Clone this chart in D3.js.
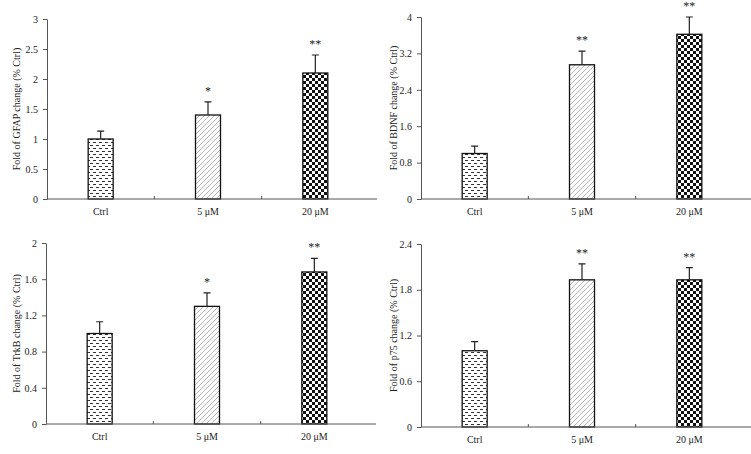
<!DOCTYPE html>
<html>
<head>
<meta charset="utf-8">
<script src="https://cdn.jsdelivr.net/npm/d3@7/dist/d3.min.js"></script>
<style>
  html, body { margin: 0; padding: 0; background: #fff; }
  svg { display: block; }
  text { font-family: "Liberation Serif", "Times New Roman", serif; fill: #222; }
</style>
</head>
<body>
<svg id="chart" width="751" height="454"></svg>
<script>
// ---------- data ----------
const categories = ["Ctrl", "5 \u03bcM", "20 \u03bcM"];

const gfapValues = [1.0, 1.4, 2.1];
const gfapErrors = [0.13, 0.22, 0.30];
const gfapSig    = ["", "*", "**"];
const gfapTicks  = [0, 0.5, 1, 1.5, 2, 2.5, 3];

const bdnfValues = [1.0, 2.95, 3.62];
const bdnfErrors = [0.16, 0.30, 0.38];
const bdnfSig    = ["", "**", "**"];
const bdnfTicks  = [0, 0.8, 1.6, 2.4, 3.2, 4];

const trkbValues = [1.0, 1.30, 1.68];
const trkbErrors = [0.13, 0.15, 0.15];
const trkbSig    = ["", "*", "**"];
const trkbTicks  = [0, 0.4, 0.8, 1.2, 1.6, 2];

const p75Values  = [1.0, 1.93, 1.93];
const p75Errors  = [0.12, 0.21, 0.16];
const p75Sig     = ["", "**", "**"];
const p75Ticks   = [0, 0.6, 1.2, 1.8, 2.4];

const yLabels = [
  "Fold of GFAP change (% Ctrl)",
  "Fold of BDNF change (% Ctrl)",
  "Fold of TrkB change (% Ctrl)",
  "Fold of p75 change (% Ctrl)"
];

// ---------- drawing ----------
const svg = d3.select("#chart");
svg.append("rect").attr("width", 751).attr("height", 454).attr("fill", "#fff");

const defs = svg.append("defs");
// Ctrl: horizontal dashes
const pDash = defs.append("pattern").attr("id", "pDash")
  .attr("patternUnits", "userSpaceOnUse").attr("width", 6).attr("height", 6);
pDash.append("rect").attr("width", 6).attr("height", 6).attr("fill", "#fff");
pDash.append("rect").attr("x", 0).attr("y", 1).attr("width", 3).attr("height", 1).attr("fill", "#333");
pDash.append("rect").attr("x", 3).attr("y", 4).attr("width", 3).attr("height", 1).attr("fill", "#333");
// 5 uM: diagonal lines
const pDiag = defs.append("pattern").attr("id", "pDiag")
  .attr("patternUnits", "userSpaceOnUse").attr("width", 5).attr("height", 5);
pDiag.append("rect").attr("width", 5).attr("height", 5).attr("fill", "#fff");
pDiag.append("path").attr("d", "M-1,6 L6,-1 M-1,1 L1,-1 M4,6 L6,4")
  .attr("stroke", "#9a9a9a").attr("stroke-width", 0.7);
// 20 uM: checkerboard
const pCheck = defs.append("pattern").attr("id", "pCheck")
  .attr("patternUnits", "userSpaceOnUse").attr("width", 6).attr("height", 6);
pCheck.append("rect").attr("width", 6).attr("height", 6).attr("fill", "#fff");
pCheck.append("rect").attr("x", 0).attr("y", 0).attr("width", 3).attr("height", 3).attr("fill", "#111");
pCheck.append("rect").attr("x", 3).attr("y", 3).attr("width", 3).attr("height", 3).attr("fill", "#111");
const fills = ["url(#pDash)", "url(#pDiag)", "url(#pCheck)"];

const panels = [
  { values: gfapValues, errors: gfapErrors, sig: gfapSig, ticks: gfapTicks, label: yLabels[0],
    x0: 47, x1: 369, yTop: 19, yBot: 199, labelX: 16 },
  { values: bdnfValues, errors: bdnfErrors, sig: bdnfSig, ticks: bdnfTicks, label: yLabels[1],
    x0: 421, x1: 743, yTop: 17, yBot: 199, labelX: 393 },
  { values: trkbValues, errors: trkbErrors, sig: trkbSig, ticks: trkbTicks, label: yLabels[2],
    x0: 46, x1: 368, yTop: 243, yBot: 424, labelX: 16 },
  { values: p75Values, errors: p75Errors, sig: p75Sig, ticks: p75Ticks, label: yLabels[3],
    x0: 421, x1: 743, yTop: 244, yBot: 427, labelX: 393 }
];

const barW = 25;
const axisColor = "#555";

panels.forEach(p => {
  const g = svg.append("g");
  const y = d3.scaleLinear().domain([0, d3.max(p.ticks)]).range([p.yBot, p.yTop]);
  const x = d3.scaleBand().domain(categories).range([p.x0, p.x1]).padding(0);
  const cx = c => x(c) + x.bandwidth() / 2;

  // bars
  g.selectAll("rect.bar").data(categories).join("rect")
    .attr("class", "bar")
    .attr("x", c => cx(c) - barW / 2)
    .attr("width", barW)
    .attr("y", (c, i) => y(p.values[i]))
    .attr("height", (c, i) => y(0) - y(p.values[i]))
    .attr("fill", (c, i) => fills[i])
    .attr("stroke", "#111").attr("stroke-width", 1.3);

  // error bars
  g.selectAll("path.err").data(categories).join("path")
    .attr("class", "err")
    .attr("d", (c, i) => {
      const xc = cx(c), yt = y(p.values[i] + p.errors[i]), yb = y(p.values[i]);
      return `M${xc},${yb}V${yt}M${xc - 3.5},${yt}H${xc + 3.5}`;
    })
    .attr("stroke", "#222").attr("stroke-width", 1.2).attr("fill", "none");

  // significance stars
  g.selectAll("text.sig").data(categories).join("text")
    .attr("class", "sig")
    .attr("x", c => cx(c))
    .attr("y", (c, i) => y(p.values[i] + p.errors[i]) - 7)
    .attr("text-anchor", "middle")
    .attr("font-size", 12)
    .attr("fill", "#222")
    .text((c, i) => p.sig[i]);

  // y axis
  const ya = g.append("g").attr("transform", `translate(${p.x0},0)`)
    .call(d3.axisLeft(y).tickValues(p.ticks).tickFormat(d => String(d))
      .tickSize(4).tickSizeOuter(0).tickPadding(5));
  ya.selectAll("path, line").attr("stroke", axisColor);
  ya.selectAll("text").attr("font-size", 10).attr("font-family", "Liberation Serif, serif").attr("fill", "#222");

  // x axis
  const xa = g.append("g").attr("transform", `translate(0,${p.yBot})`)
    .call(d3.axisBottom(x).tickSize(0).tickSizeOuter(0).tickPadding(9));
  xa.select("path.domain").attr("d", `M${p.x0},0H${p.x1 + 8}`).attr("stroke", axisColor);
  xa.selectAll("text").attr("font-size", 10).attr("font-family", "Liberation Serif, serif").attr("fill", "#222");
  g.selectAll("line.xtick").data(categories.slice(1)).join("line")
    .attr("class", "xtick")
    .attr("x1", c => x(c)).attr("x2", c => x(c))
    .attr("y1", p.yBot).attr("y2", p.yBot - 3)
    .attr("stroke", axisColor);

  // y label
  g.append("text")
    .attr("transform", `translate(${p.labelX},${(p.yTop + p.yBot) / 2}) rotate(-90)`)
    .attr("text-anchor", "middle")
    .attr("dominant-baseline", "central")
    .attr("font-size", 10)
    .text(p.label);
});
</script>
</body>
</html>
